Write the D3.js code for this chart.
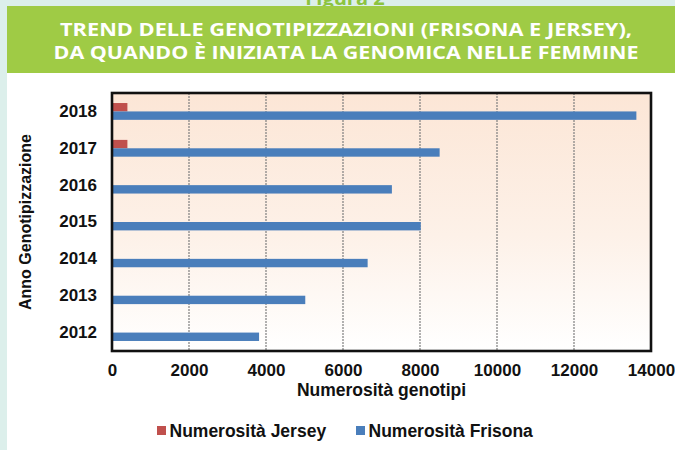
<!DOCTYPE html>
<html>
<head>
<meta charset="utf-8">
<script src="https://cdn.jsdelivr.net/npm/d3@7"></script>
<style>
  body { margin: 0; background: #dcefeb; }
  #svgCanvas { width: 675px; height: 450px; overflow: hidden; }
</style>
</head>
<body>
<div id="svgCanvas"></div>
<script>
const width = 675, height = 450
const plot = {left: 112, right: 651, top: 93, bottom: 351}
const barH = 8.4

// data
const years = ["2018", "2017", "2016", "2015", "2014", "2013", "2012"]
const jersey = [400, 400, 0, 0, 0, 0, 0]
const frisona = [13620, 8510, 7270, 8020, 6640, 5020, 3820]
const xTicks = [0, 2000, 4000, 6000, 8000, 10000, 12000, 14000]
const seriesNames = ["Numerosità Jersey", "Numerosità Frisona"]
const seriesColors = ["#c0504d", "#4a7ebb"]
const titleLines = ["TREND DELLE GENOTIPIZZAZIONI (FRISONA E JERSEY),",
    "DA QUANDO È INIZIATA LA GENOMICA NELLE FEMMINE"]

const xScale = d3.scaleLinear().domain([0, 14000]).range([plot.left, plot.right])
const yScale = d3.scaleBand().domain(years).range([plot.top, plot.bottom])
const subScale = d3.scaleBand().domain([0, 1]).range([-barH, barH])

const chartFont = "'Liberation Sans', Arial, sans-serif"

let svg = d3.select("#svgCanvas")
    .append("svg")
    .attr("xmlns", "http://www.w3.org/2000/svg")
    .attr("width", width)
    .attr("height", height)

// page background and header
svg.append("rect").attr("width", width).attr("height", height).attr("fill", "#dcefeb")
svg.append("text")
    .attr("x", 345).attr("y", 5)
    .attr("text-anchor", "middle")
    .style("font-family", "'Open Sans', sans-serif")
    .style("font-weight", "bold")
    .style("font-size", "20px")
    .attr("fill", "#8cc43f")
    .text("Figura 2")
svg.append("rect").attr("x", 7).attr("y", 6).attr("width", width - 7).attr("height", 67).attr("fill", "#9fcb45")
svg.append("rect").attr("x", 7).attr("y", 73).attr("width", width - 7).attr("height", height - 73).attr("fill", "#ffffff")

const titleWidths = [572, 585]
titleLines.forEach((line, i) => {
    svg.append("text")
        .attr("x", 346).attr("y", 36 + i * 23.3)
        .attr("text-anchor", "middle")
        .attr("textLength", titleWidths[i])
        .attr("lengthAdjust", "spacingAndGlyphs")
        .style("font-family", "'Open Sans', sans-serif")
        .style("font-weight", "bold")
        .style("font-size", "18.5px")
        .attr("fill", "#ffffff")
        .text(line)
})

// plot area with peach gradient
const grad = svg.append("defs").append("linearGradient")
    .attr("id", "plotGrad").attr("x1", 0).attr("y1", 0).attr("x2", 0).attr("y2", 1)
grad.append("stop").attr("offset", "0").attr("stop-color", "#fce6d6")
grad.append("stop").attr("offset", "0.55").attr("stop-color", "#fdf1e8")
grad.append("stop").attr("offset", "1").attr("stop-color", "#ffffff")

svg.append("rect")
    .attr("x", plot.left).attr("y", plot.top)
    .attr("width", plot.right - plot.left).attr("height", plot.bottom - plot.top)
    .attr("fill", "url(#plotGrad)")

// dashed gridlines
svg.append("g")
    .selectAll("line")
    .data(xTicks.slice(1, -1))
    .enter().append("line")
    .attr("x1", d => xScale(d)).attr("x2", d => xScale(d))
    .attr("y1", plot.top).attr("y2", plot.bottom)
    .attr("stroke", "#7f7f7f")
    .attr("stroke-width", 1.2)
    .attr("stroke-dasharray", "2,1")

// bars
const series = [jersey, frisona]
series.forEach((values, s) => {
    svg.append("g")
        .selectAll("rect")
        .data(values.map((v, i) => ({year: years[i], value: v})).filter(d => d.value > 0))
        .enter().append("rect")
        .attr("x", xScale(0))
        .attr("y", d => yScale(d.year) + yScale.bandwidth() / 2 + subScale(s))
        .attr("width", d => xScale(d.value) - xScale(0))
        .attr("height", subScale.bandwidth())
        .attr("fill", seriesColors[s])
})

// frame
svg.append("rect")
    .attr("x", plot.left).attr("y", plot.top)
    .attr("width", plot.right - plot.left).attr("height", plot.bottom - plot.top)
    .attr("fill", "none")
    .attr("stroke", "#111")
    .attr("stroke-width", 2.6)

// axes
const xAxis = svg.append("g")
    .attr("transform", "translate(0," + plot.bottom + ")")
    .call(d3.axisBottom(xScale).tickValues(xTicks).tickSize(0).tickPadding(12.5).tickFormat(d3.format("d")))
const yAxis = svg.append("g")
    .attr("transform", "translate(" + plot.left + ",0)")
    .call(d3.axisLeft(yScale).tickSize(0).tickPadding(15))
;[xAxis, yAxis].forEach(ax => {
    ax.select(".domain").remove()
    ax.selectAll("text")
        .style("font-family", chartFont)
        .style("font-weight", "bold")
        .style("font-size", "17px")
        .attr("fill", "#111")
})

// axis titles
svg.append("text")
    .attr("x", (plot.left + plot.right) / 2).attr("y", 396)
    .attr("text-anchor", "middle")
    .style("font-family", chartFont).style("font-weight", "bold").style("font-size", "17.5px")
    .attr("fill", "#111")
    .text("Numerosità genotipi")
svg.append("text")
    .attr("transform", "translate(31," + (plot.top + plot.bottom) / 2 + ") rotate(-90)")
    .attr("text-anchor", "middle")
    .style("font-family", chartFont).style("font-weight", "bold").style("font-size", "16px")
    .attr("fill", "#111")
    .text("Anno Genotipizzazione")

// legend
const legendX = [157, 356]
seriesNames.forEach((name, i) => {
    svg.append("rect")
        .attr("x", legendX[i]).attr("y", 426)
        .attr("width", 9).attr("height", 9)
        .attr("fill", seriesColors[i])
    svg.append("text")
        .attr("x", legendX[i] + 12.5).attr("y", 436.5)
        .style("font-family", chartFont).style("font-weight", "bold").style("font-size", "17.5px")
        .attr("fill", "#111")
        .text(name)
})
</script>
</body>
</html>
